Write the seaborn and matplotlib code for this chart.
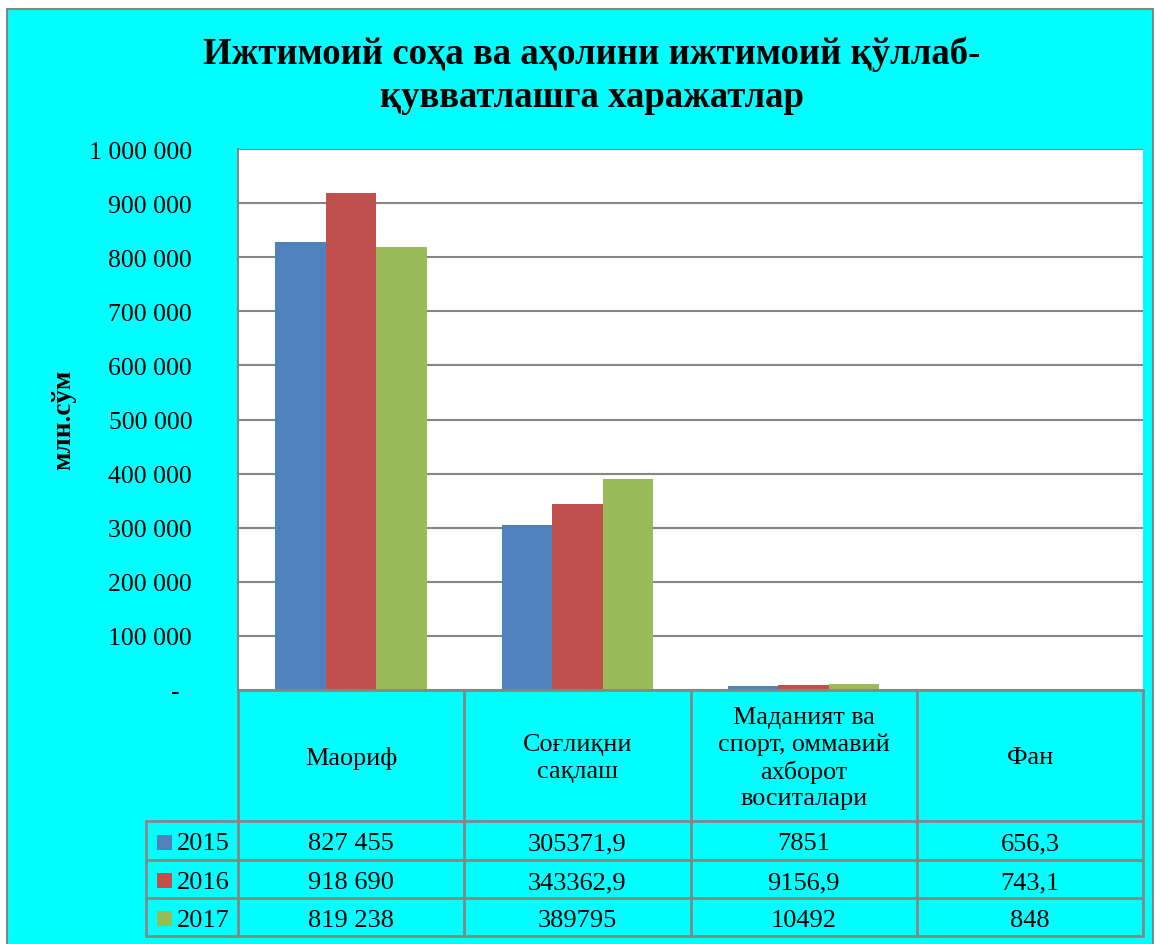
import numpy as np
import pandas as pd
import matplotlib
matplotlib.use("Agg")
import matplotlib.pyplot as plt
from matplotlib.lines import Line2D
from matplotlib.patches import Rectangle
import seaborn as sns

# Data
categories = ["Маориф", "Соғлиқни\nсақлаш",
              "Маданият ва\nспорт, оммавий\nахборот\nвоситалари", "Фан"]
years = ["2015", "2016", "2017"]
values_2015 = [827455, 305371.9, 7851, 656.3]
values_2016 = [918690, 343362.9, 9156.9, 743.1]
values_2017 = [819238, 389795, 10492, 848]
colors = ["#4F81BD", "#C0504D", "#9BBB59"]

title = "Ижтимоий соҳа ва аҳолини ижтимоий қўллаб-\nқувватлашга харажатлар"
ylabel = "млн.сўм"

W, H = 1161, 945
CYAN = "#00FFFF"
GRAY = "#868686"
FONT = ["Liberation Serif", "DejaVu Serif"]


def fx(x):
    return x / W


def fy(y):
    return 1 - y / H


def fmt_cell(v):
    """Format a table value the way the source table shows it."""
    if v >= 500000:
        return "{:,.0f}".format(v).replace(",", " ")
    if float(v).is_integer():
        return "{:.0f}".format(v)
    return "{:.1f}".format(v).replace(".", ",")


def fmt_tick(v, pos):
    if v == 0:
        return "-  "
    return "{:,.0f}".format(v).replace(",", " ")


sns.set_theme(style="white")
plt.rcParams["font.family"] = FONT
plt.rcParams["text.color"] = "black"
plt.rcParams["ytick.color"] = "black"

series = [values_2015, values_2016, values_2017]
rows = []
for year, vals in zip(years, series):
    for cat, v in zip(categories, vals):
        rows.append({"category": cat, "year": year, "value": v})
df = pd.DataFrame(rows)

fig = plt.figure(figsize=(W / 100, H / 100), dpi=100, facecolor="white")
fig.add_artist(Rectangle((fx(7), fy(946)), fx(1153 - 7), fy(10) - fy(946),
                         transform=fig.transFigure, facecolor=CYAN,
                         edgecolor=GRAY, linewidth=1.5, zorder=0))

# Plot area in pixels
left, right, top, bottom = 238, 1143, 150, 691
ax = fig.add_axes([fx(left), fy(bottom), fx(right - left), fy(top) - fy(bottom)])
ax.set_facecolor("white")

sns.barplot(data=df, x="category", y="value", hue="year", palette=colors,
            width=0.67, saturation=1, legend=False, linewidth=0, ax=ax)

ax.set_ylim(0, 1000000)
ax.set_xlim(-0.5, len(categories) - 0.5)
ax.set_yticks(np.arange(0, 1000001, 100000))
ax.yaxis.set_major_formatter(plt.FuncFormatter(fmt_tick))
ax.tick_params(axis="y", length=0, pad=33, labelsize=18.5)
ax.set_xticks([])
ax.set_xlabel("")
ax.set_ylabel("")
ax.grid(axis="y", color=GRAY, linewidth=1.5)
ax.set_axisbelow(True)
for side in ["top", "right", "bottom"]:
    ax.spines[side].set_visible(False)
ax.spines["left"].set_color(GRAY)
ax.spines["left"].set_linewidth(1.5)

fig.text(fx(592), fy(76), title, ha="center", va="center",
         fontsize=26.5, fontweight="bold", linespacing=1.3)
fig.text(fx(64), fy(420), ylabel, ha="center", va="center", rotation=90,
         fontsize=19.5, fontweight="bold")

# Data table under the plot
colw = (right - left) / len(categories)
row_lines = [bottom, 822, 861, 899, 937]
lab_left = 146


def hline(x0, x1, y):
    fig.add_artist(Line2D([fx(x0), fx(x1)], [fy(y), fy(y)], color=GRAY,
                          linewidth=2, transform=fig.transFigure))


def vline(x, y0, y1):
    fig.add_artist(Line2D([fx(x), fx(x)], [fy(y0), fy(y1)], color=GRAY,
                          linewidth=2, transform=fig.transFigure))


hline(left, right, row_lines[0])
for y in row_lines[1:]:
    hline(lab_left, right, y)
vline(lab_left, row_lines[1], row_lines[-1])
for i in range(len(categories) + 1):
    vline(left + i * colw, row_lines[0], row_lines[-1])

for i, cat in enumerate(categories):
    fig.text(fx(left + (i + 0.5) * colw), fy((row_lines[0] + row_lines[1]) / 2 + 2),
             cat, ha="center", va="center", fontsize=18.8, linespacing=1.25)

for r, (year, vals, col) in enumerate(zip(years, series, colors)):
    yc = (row_lines[r + 1] + row_lines[r + 2]) / 2
    fig.add_artist(Rectangle((fx(157), fy(yc + 9)), fx(15), fy(yc - 6) - fy(yc + 9),
                             transform=fig.transFigure, facecolor=col,
                             edgecolor="none"))
    fig.text(fx(177), fy(yc + 3), year, ha="left", va="center", fontsize=19)
    for i, v in enumerate(vals):
        fig.text(fx(left + (i + 0.5) * colw), fy(yc + 3), fmt_cell(v),
                 ha="center", va="center", fontsize=19)

fig.savefig("out.png", dpi=100, facecolor=fig.get_facecolor())
